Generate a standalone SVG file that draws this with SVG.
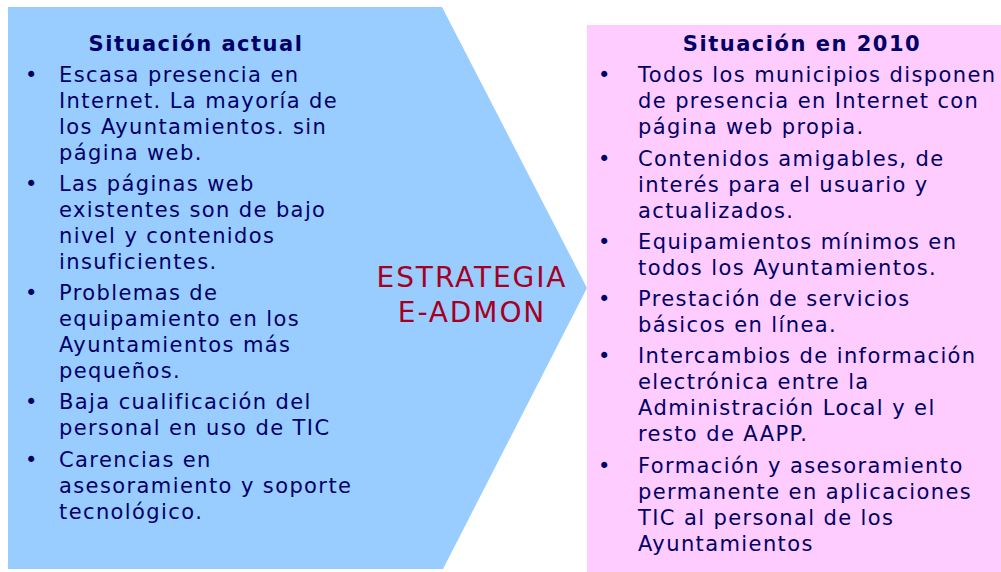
<svg xmlns="http://www.w3.org/2000/svg" width="1001" height="572" viewBox="0 0 1001 572">
<style>
.t{font-family:"DejaVu Sans","Verdana",sans-serif;font-size:21px;letter-spacing:1.4px;fill:#000066}
.h{font-family:"DejaVu Sans","Verdana",sans-serif;font-size:21px;letter-spacing:1.5px;font-weight:bold;fill:#000066;text-anchor:middle}
.c{font-family:"DejaVu Sans","Verdana",sans-serif;font-size:28px;letter-spacing:1.9px;fill:#A50021;text-anchor:middle}
</style>
<rect width="1001" height="572" fill="#ffffff"/>
<g id="situacion-actual">
<polygon points="8,7 442,7 587,288 443,569 8,569" fill="#99CCFF"/>
<text class="h" x="196" y="51">Situación actual</text>
<g class="t">
<text x="25" y="82">•</text>
<text x="59" y="82">Escasa presencia en</text>
<text x="59" y="108">Internet. La mayoría de</text>
<text x="59" y="134">los Ayuntamientos. sin</text>
<text x="59" y="160">página web.</text>
<text x="25" y="191">•</text>
<text x="59" y="191">Las páginas web</text>
<text x="59" y="217">existentes son de bajo</text>
<text x="59" y="243">nivel y contenidos</text>
<text x="59" y="269">insuficientes.</text>
<text x="25" y="300">•</text>
<text x="59" y="300">Problemas de</text>
<text x="59" y="326">equipamiento en los</text>
<text x="59" y="352">Ayuntamientos más</text>
<text x="59" y="378">pequeños.</text>
<text x="25" y="409">•</text>
<text x="59" y="409">Baja cualificación del</text>
<text x="59" y="435">personal en uso de TIC</text>
<text x="25" y="467">•</text>
<text x="59" y="467">Carencias en</text>
<text x="59" y="493">asesoramiento y soporte</text>
<text x="59" y="519">tecnológico.</text>
</g>
</g>
<g id="estrategia">
<text class="c" x="472" y="287">ESTRATEGIA</text>
<text class="c" x="472" y="322">E-ADMON</text>
</g>
<g id="situacion-2010">
<rect x="587" y="25" width="414" height="547" fill="#FFCCFF"/>
<text class="h" x="802" y="51">Situación en 2010</text>
<g class="t">
<text x="598" y="82">•</text>
<text x="638" y="82">Todos los municipios disponen</text>
<text x="638" y="108">de presencia en Internet con</text>
<text x="638" y="134">página web propia.</text>
<text x="598" y="166">•</text>
<text x="638" y="166">Contenidos amigables, de</text>
<text x="638" y="192">interés para el usuario y</text>
<text x="638" y="218">actualizados.</text>
<text x="598" y="249">•</text>
<text x="638" y="249">Equipamientos mínimos en</text>
<text x="638" y="275">todos los Ayuntamientos.</text>
<text x="598" y="306">•</text>
<text x="638" y="306">Prestación de servicios</text>
<text x="638" y="332">básicos en línea.</text>
<text x="598" y="363">•</text>
<text x="638" y="363">Intercambios de información</text>
<text x="638" y="389">electrónica entre la</text>
<text x="638" y="415">Administración Local y el</text>
<text x="638" y="441">resto de AAPP.</text>
<text x="598" y="473">•</text>
<text x="638" y="473">Formación y asesoramiento</text>
<text x="638" y="499">permanente en aplicaciones</text>
<text x="638" y="525">TIC al personal de los</text>
<text x="638" y="551">Ayuntamientos</text>
</g>
</g>
</svg>
